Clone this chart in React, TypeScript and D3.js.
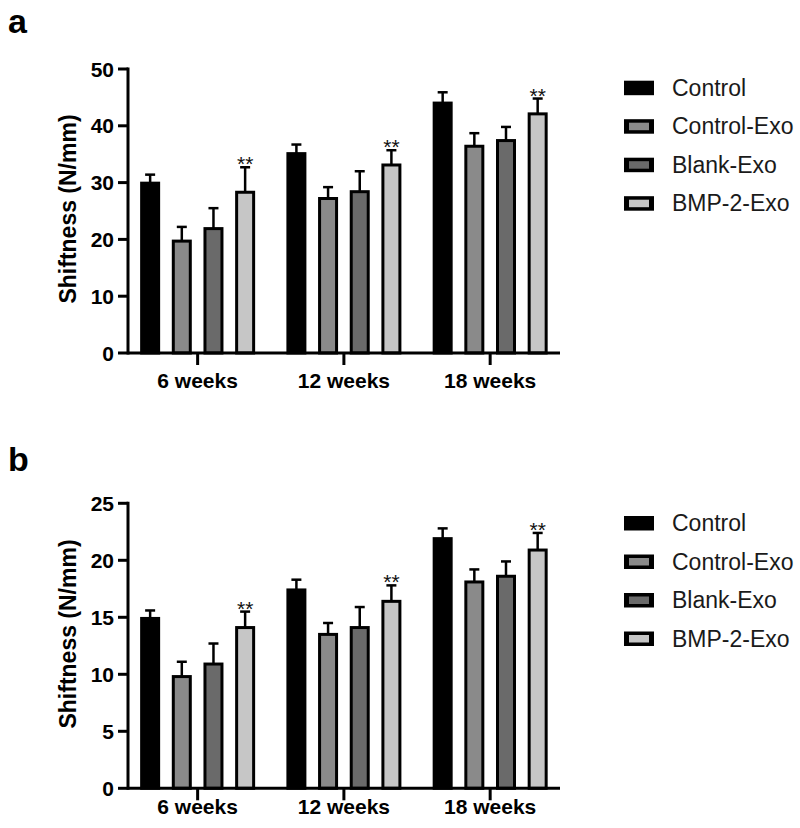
import React from "react";
import * as d3 from "d3";

const categories = ["6 weeks", "12 weeks", "18 weeks"];
const series = ["Control", "Control-Exo", "Blank-Exo", "BMP-2-Exo"];
const seriesColors = ["#000000", "#8a8a8a", "#6a6a6a", "#c6c6c6"];

// Panel a values (means) and upper error (mean + SD)
const aControl = [29.9, 35.1, 44.0];
const aControlExo = [19.7, 27.2, 36.4];
const aBlankExo = [21.9, 28.4, 37.4];
const aBmp2Exo = [28.3, 33.1, 42.1];
const aControlErr = [31.4, 36.7, 45.9];
const aControlExoErr = [22.2, 29.2, 38.7];
const aBlankExoErr = [25.5, 32.0, 39.8];
const aBmp2ExoErr = [32.7, 35.7, 44.8];
const aTicks = [0, 10, 20, 30, 40, 50];

// Panel b values
const bControl = [14.9, 17.4, 21.9];
const bControlExo = [9.8, 13.5, 18.1];
const bBlankExo = [10.9, 14.1, 18.6];
const bBmp2Exo = [14.1, 16.4, 20.9];
const bControlErr = [15.6, 18.3, 22.8];
const bControlExoErr = [11.1, 14.5, 19.2];
const bBlankExoErr = [12.7, 15.9, 19.9];
const bBmp2ExoErr = [15.5, 17.8, 22.4];
const bTicks = [0, 5, 10, 15, 20, 25];

const FONT = "'Liberation Sans', Arial, Helvetica, sans-serif";

type PanelProps = {
  label: string;
  values: number[][];
  errs: number[][];
  ticks: number[];
  yTop: number;
  yBottom: number;
  catBaseline: number;
  titleY: number;
  legendTop: number;
  panelLabelY: number;
};

function Panel(p: PanelProps) {
  const maxV = p.ticks[p.ticks.length - 1];
  const y = d3.scaleLinear().domain([0, maxV]).range([p.yBottom, p.yTop]);
  const x0 = d3.scaleBand().domain(categories).range([124.5, 563.3]).padding(0);
  const x1 = d3.scalePoint().domain(series).range([-47.5, 47.5]);
  const axisX = 128;
  const axisRight = 560;
  const barW = 17;
  const capW = 10;
  const legendStep = 38.5;

  return (
    <g>
      <text x={8} y={p.panelLabelY} fontFamily={FONT} fontWeight="bold" fontSize={34} fill="#000">
        {p.label}
      </text>
      {/* bars */}
      {series.map((s, si) =>
        categories.map((c, ci) => {
          const cx = (x0(c) as number) + x0.bandwidth() / 2 + (x1(s) as number);
          const v = p.values[si][ci];
          const e = p.errs[si][ci];
          return (
            <g key={s + c}>
              <line x1={cx} x2={cx} y1={y(v)} y2={y(e)} stroke="#000" strokeWidth={2.5} />
              <line x1={cx - capW / 2} x2={cx + capW / 2} y1={y(e)} y2={y(e)} stroke="#000" strokeWidth={2.5} />
              <rect
                x={cx - barW / 2}
                y={y(v)}
                width={barW}
                height={y(0) - y(v)}
                fill={seriesColors[si]}
                stroke="#000"
                strokeWidth={3}
              />
              {si === 3 && (
                <text x={cx} y={y(e) + 4} textAnchor="middle" fontFamily={FONT} fontSize={21} fill="#111">
                  **
                </text>
              )}
            </g>
          );
        })
      )}
      {/* y axis */}
      <line x1={axisX} x2={axisX} y1={y(maxV) - 1.5} y2={y(0) + 1.5} stroke="#000" strokeWidth={3} />
      {p.ticks.map((t) => (
        <g key={t}>
          <line x1={axisX - 10} x2={axisX} y1={y(t)} y2={y(t)} stroke="#000" strokeWidth={3} />
          <text
            x={axisX - 14}
            y={y(t) + 7.5}
            textAnchor="end"
            fontFamily={FONT}
            fontWeight="bold"
            fontSize={21}
            fill="#000"
          >
            {t}
          </text>
        </g>
      ))}
      {/* x axis */}
      <line x1={axisX} x2={axisRight} y1={y(0)} y2={y(0)} stroke="#000" strokeWidth={3} />
      {categories.map((c) => {
        const cx = (x0(c) as number) + x0.bandwidth() / 2;
        return (
          <g key={c}>
            <line x1={cx} x2={cx} y1={y(0)} y2={y(0) + 12} stroke="#000" strokeWidth={3} />
            <text
              x={cx}
              y={p.catBaseline}
              textAnchor="middle"
              fontFamily={FONT}
              fontWeight="bold"
              fontSize={21}
              fill="#000"
            >
              {c}
            </text>
          </g>
        );
      })}
      {/* y title */}
      <text
        transform={`translate(76,${p.titleY}) rotate(-90)`}
        textAnchor="middle"
        fontFamily={FONT}
        fontWeight="bold"
        fontSize={23}
        fill="#000"
      >
        Shiftness (N/mm)
      </text>
      {/* legend */}
      {series.map((s, si) => {
        const top = p.legendTop + si * legendStep;
        return (
          <g key={s}>
            <rect x={624} y={top} width={30} height={14.5} fill="#000" />
            {si > 0 && <rect x={629} y={top + 3.5} width={20} height={7.5} fill={seriesColors[si]} />}
            <text x={672} y={top + 7.25 + 8} fontFamily={FONT} fontSize={23} fill="#1a1a1a">
              {s}
            </text>
          </g>
        );
      })}
    </g>
  );
}

export default function App() {
  return (
    <svg width={800} height={828} style={{ position: "absolute", left: 0, top: 0, background: "#fff" }}>
      <rect x={0} y={0} width={800} height={828} fill="#fff" />
      <Panel
        label="a"
        values={[aControl, aControlExo, aBlankExo, aBmp2Exo]}
        errs={[aControlErr, aControlExoErr, aBlankExoErr, aBmp2ExoErr]}
        ticks={aTicks}
        yTop={69}
        yBottom={353}
        catBaseline={387.5}
        titleY={209}
        legendTop={80.7}
        panelLabelY={33}
      />
      <Panel
        label="b"
        values={[bControl, bControlExo, bBlankExo, bBmp2Exo]}
        errs={[bControlErr, bControlExoErr, bBlankExoErr, bBmp2ExoErr]}
        ticks={bTicks}
        yTop={503.3}
        yBottom={788.3}
        catBaseline={814}
        titleY={634}
        legendTop={516}
        panelLabelY={471}
      />
    </svg>
  );
}
